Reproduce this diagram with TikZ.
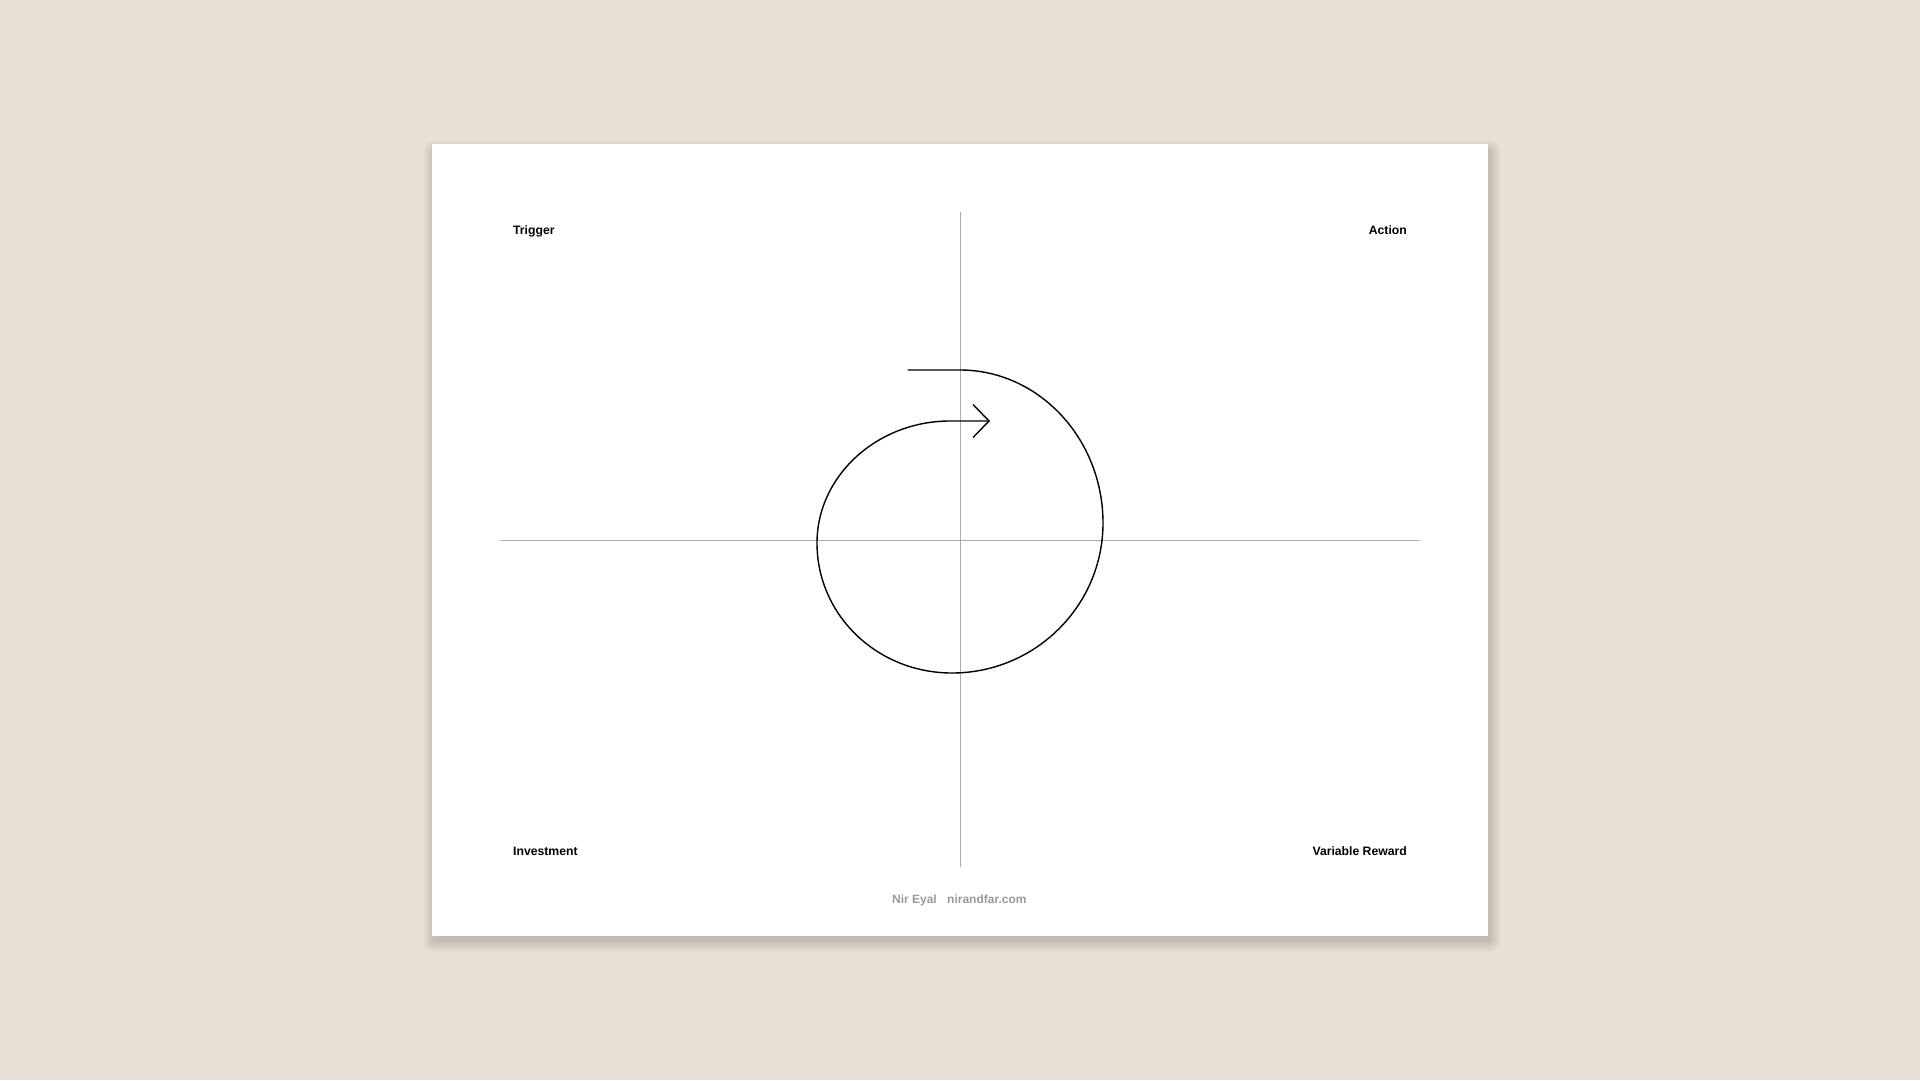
\documentclass[tikz,border=0pt]{standalone}
\usepackage{fontspec}
\setmainfont{Liberation Sans}
\usetikzlibrary{arrows.meta}
\definecolor{deskColor}{HTML}{E8E0D5}
\definecolor{axisColor}{HTML}{ABABAB}
\definecolor{footColor}{HTML}{9A9A9A}
\newcommand{\cornerLabel}[4]{%%
  \node[labelStyle,anchor=#4] (#1) at (#2) {#3};
}
\begin{document}
\begin{tikzpicture}[%%
  x=1pt,y=-1pt,%%
  axisStyle/.style={-,line width=0.9pt,axisColor},%%
  loopStyle/.style={line width=1.4pt,black,line cap=round,line join=round},%%
  labelStyle/.style={inner sep=0pt,font=\fontsize{12.2}{14}\selectfont\bfseries},%%
  footStyle/.style={inner sep=0pt,anchor=base,font=\fontsize{12}{14}\selectfont\bfseries,footColor},%%
  shadowStyle/.style={fill=black,opacity=0.013,draw=none},%%
  paperStyle/.style={fill=white,draw=none}
]
%%
%% The desk and the sheet.
\fill[deskColor] (0,0) rectangle (1920,1080);
\useasboundingbox (0,0) rectangle (1920,1080);
\foreach \k in {0,...,11}
  \fill[shadowStyle,rounded corners=\k pt] (434-\k,151-\k) rectangle (1490+\k,941+\k);
\path[paperStyle] (432,144) rectangle (1488,936);
%%
\pgfmathsetmacro{\xmid}{960}
\pgfmathsetmacro{\ymid}{540}
\coordinate (xstart) at (500,\ymid);
\coordinate (xend) at (1420,\ymid);
\coordinate (ystart) at (\xmid,212);
\coordinate (yend) at (\xmid,867);
%%
%% The two axes.
\draw[axisStyle] (xstart) -- (xend);
\draw[axisStyle] (ystart) -- (yend);
%%
%% The loop.
\coordinate (loopStart) at (908,370);
\coordinate (loopTop) at (\xmid,370);
\coordinate (loopRight) at (1103,523);
\coordinate (loopBottom) at (952,673);
\coordinate (loopLeft) at (817,543);
\coordinate (loopInner) at (950,421);
\coordinate (loopTip) at (990,421);
\draw[loopStyle,-{Straight Barb[length=16pt,width=33pt,line width=1.4pt]}]
  (loopStart) -- (loopTop)
  .. controls (1039,370) and (1103,439) .. (loopRight)
  .. controls (1103,606) and (1035,673) .. (loopBottom)
  .. controls (877,673) and (817,615) .. (loopLeft)
  .. controls (817,476) and (877,421) .. (loopInner)
  -- (loopTip);
%%
%% The four stages.
\cornerLabel{trigger}{513,234}{Trigger}{base west}
\cornerLabel{action}{1407,234}{Action}{base east}
\cornerLabel{investment}{513,855}{Investment}{base west}
\cornerLabel{reward}{1407,855}{Variable Reward}{base east}
%%
%% The footer.
\node[footStyle,anchor=base east] (author) at (937,903) {Nir Eyal};
\node[footStyle,anchor=base west] (site) at (947,903) {nirandfar.com};
\end{tikzpicture}
\end{document}
